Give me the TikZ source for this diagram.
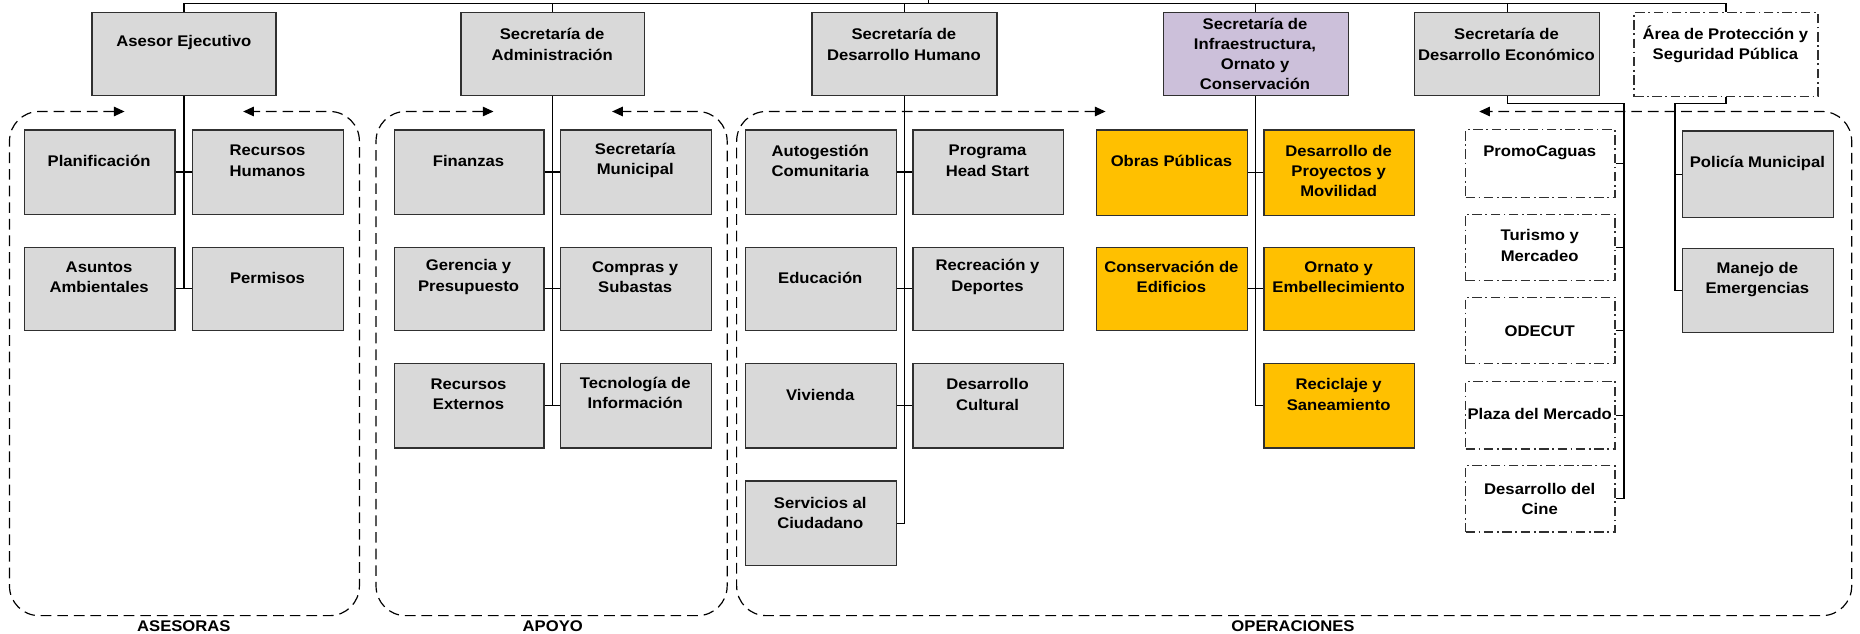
\documentclass[tikz,border=0pt]{standalone}
\usepackage{fontspec}
\setmainfont{Liberation Sans}[FakeStretch=1.08]
\usetikzlibrary{arrows.meta}

\definecolor{boxgray}{HTML}{D9D9D9}
\definecolor{infrafill}{HTML}{CCC0DA}
\definecolor{opfill}{HTML}{FFC000}
\definecolor{edgecol}{HTML}{303030}

\tikzset{
  unitbox/.style={draw=edgecol, line width=1.1pt, inner sep=0pt},
  gbox/.style={unitbox, fill=boxgray},
  obox/.style={unitbox, fill=opfill},
  pbox/.style={unitbox, fill=infrafill},
  dbox/.style={draw=edgecol, line width=1pt, fill=white, inner sep=0pt,
               dash pattern=on 8pt off 3pt on 1.5pt off 3pt},
  txt/.style={font=\fontsize{13}{17}\selectfont\bfseries, align=center, inner sep=0pt},
  link/.style={line width=1pt, draw=black},
  grp/.style={line width=1pt, draw=black, dash pattern=on 9pt off 5pt,
              rounded corners=25pt, >={Triangle[length=9pt,width=8pt]}},
  grplbl/.style={font=\fontsize{13}{15}\selectfont\bfseries, inner sep=0pt},
}

% box from its top-left (#3,#4) to bottom-right (#5,#6)
\newcommand\orgbox[6]{%
  \node[#1, anchor=north west, minimum width=#5pt-#3pt, minimum height=#6pt-#4pt]
    (#2) at (#3,#4) {};}

\begin{document}
\begin{tikzpicture}[x=1pt,y=-1pt]
\useasboundingbox (0,0) rectangle (1568,534);

% ---------- group frames ----------
\draw[grp,<->] (105,94) -- (8,94) -- (8,519) -- (303,519) -- (303,94) -- (205,94);
\draw[grp,<->] (416,94) -- (317,94) -- (317,519) -- (613,519) -- (613,94) -- (516,94);
\draw[grp,<->] (932,94) -- (621,94) -- (621,519) -- (1561,519) -- (1561,94) -- (1247,94);

\node[grplbl] (l-ase) at (155,528) {ASESORAS};
\node[grplbl] (l-apo) at (466,528) {APOYO};
\node[grplbl] (l-ope) at (1090,528) {OPERACIONES};

% ---------- heads ----------
\orgbox{gbox}{ae}{77}{10}{232}{80}
\orgbox{gbox}{sa}{388}{10}{543}{80}
\orgbox{gbox}{sdh}{684}{10}{840}{80}
\orgbox{pbox}{sio}{980}{10}{1136}{80}
\orgbox{gbox}{sde}{1192}{10}{1348}{80}
\orgbox{dbox}{aps}{1377}{10}{1532}{81}

% ---------- Asesoras ----------
\orgbox{gbox}{pl}{20}{109}{147}{180}
\orgbox{gbox}{rh}{162}{109}{289}{180}
\orgbox{gbox}{asa}{20}{208}{147}{278}
\orgbox{gbox}{per}{162}{208}{289}{278}

% ---------- Apoyo ----------
\orgbox{gbox}{fin}{332}{109}{458}{180}
\orgbox{gbox}{smu}{472}{109}{599}{180}
\orgbox{gbox}{gyp}{332}{208}{458}{278}
\orgbox{gbox}{cys}{472}{208}{599}{278}
\orgbox{gbox}{rex}{332}{306}{458}{377}
\orgbox{gbox}{tdi}{472}{306}{599}{377}

% ---------- Desarrollo Humano ----------
\orgbox{gbox}{agc}{628}{109}{755}{180}
\orgbox{gbox}{phs}{769}{109}{896}{180}
\orgbox{gbox}{edu}{628}{208}{755}{278}
\orgbox{gbox}{ryd}{769}{208}{896}{278}
\orgbox{gbox}{viv}{628}{306}{755}{377}
\orgbox{gbox}{dcu}{769}{306}{896}{377}
\orgbox{gbox}{sac}{628}{405}{755}{476}

% ---------- Infraestructura ----------
\orgbox{obox}{obp}{924}{109}{1051}{181}
\orgbox{obox}{dpm}{1065}{109}{1192}{181}
\orgbox{obox}{cde}{924}{208}{1051}{278}
\orgbox{obox}{oye}{1065}{208}{1192}{278}
\orgbox{obox}{rys}{1065}{306}{1192}{377}

% ---------- Desarrollo Economico ----------
\orgbox{dbox}{pro}{1235}{109}{1361}{166}
\orgbox{dbox}{tym}{1235}{180}{1361}{236}
\orgbox{dbox}{ode}{1235}{250}{1361}{306}
\orgbox{dbox}{pdm}{1235}{321}{1361}{378}
\orgbox{dbox}{ddc}{1235}{392}{1361}{448}

% ---------- Proteccion ----------
\orgbox{gbox}{pol}{1418}{110}{1545}{183}
\orgbox{gbox}{mde}{1418}{209}{1545}{280}

% ---------- connectors ----------
\coordinate (root) at (783,0);
\coordinate (bar) at (0,3);
\draw[link] (ae.north) -- (ae.north |- bar) -- (aps.north |- bar) -- (aps.north);
\draw[link] (root) -- (root |- bar);
\draw[link] (sa.north) -- (sa.north |- bar);
\draw[link] (sdh.north) -- (sdh.north |- bar);
\draw[link] (sio.north) -- (sio.north |- bar);
\draw[link] (sde.north) -- (sde.north |- bar);

\draw[link] (ae.south) -- (ae.south |- asa.east);
\draw[link] (pl.east) -- (rh.west);
\draw[link] (asa.east) -- (per.west);

\draw[link] (sa.south) -- (sa.south |- rex.east);
\draw[link] (fin.east) -- (smu.west);
\draw[link] (gyp.east) -- (cys.west);
\draw[link] (rex.east) -- (tdi.west);

\draw[link] (sdh.south) -- (sdh.south |- sac.east) -- (sac.east);
\draw[link] (agc.east) -- (phs.west);
\draw[link] (edu.east) -- (ryd.west);
\draw[link] (viv.east) -- (dcu.west);

\draw[link] (sio.south) -- (sio.south |- rys.west) -- (rys.west);
\draw[link] (obp.east) -- (dpm.west);
\draw[link] (cde.east) -- (oye.west);

\coordinate (ebus) at (1369,87);
\draw[link] (sde.south) -- (sde.south |- ebus) -- (ebus) -- (ebus |- ddc.east) -- (ddc.east);
\draw[link] (pro.east) -- (pro.east -| ebus);
\draw[link] (tym.east) -- (tym.east -| ebus);
\draw[link] (ode.east) -- (ode.east -| ebus);
\draw[link] (pdm.east) -- (pdm.east -| ebus);

\coordinate (abus) at (1412,87);
\draw[link] (aps.south) -- (aps.south |- abus) -- (abus) -- (abus |- mde.west) -- (mde.west);
\draw[link] (pol.west) -- (pol.west -| abus);

% ---------- texts ----------
\node[txt] (ae-t)  at (155,36)    {Asesor Ejecutivo};
\node[txt] (sa-t)  at (465.5,37.5)  {Secretaría de\\Administración};
\node[txt] (sdh-t) at (762,37.5)  {Secretaría de\\Desarrollo Humano};
\node[txt] (sio-t) at (1058,45.5) {Secretaría de\\Infraestructura,\\Ornato y\\Conservación};
\node[txt] (sde-t) at (1270,37.5) {Secretaría de\\Desarrollo Económico};
\node[txt] (aps-t) at (1454.5,37.5) {Área de Protección y\\Seguridad Pública};

\node[txt] (pl-t)  at (83.5,136)   {Planificación};
\node[txt] (rh-t)  at (225.5,135.5) {Recursos\\Humanos};
\node[txt] (asa-t) at (83.5,233.5) {Asuntos\\Ambientales};
\node[txt] (per-t) at (225.5,234)  {Permisos};

\node[txt] (fin-t) at (395,136)    {Finanzas};
\node[txt] (smu-t) at (535.5,135.5) {Secretaría\\Municipal};
\node[txt] (gyp-t) at (395,233.5)  {Gerencia y\\Presupuesto};
\node[txt] (cys-t) at (535.5,233.5) {Compras y\\Subastas};
\node[txt] (rex-t) at (395,332.5)  {Recursos\\Externos};
\node[txt] (tdi-t) at (535.5,331.5) {Tecnología de\\Información};

\node[txt] (agc-t) at (691.5,135.5) {Autogestión\\Comunitaria};
\node[txt] (phs-t) at (832.5,135.5) {Programa\\Head Start};
\node[txt] (edu-t) at (691.5,234)   {Educación};
\node[txt] (ryd-t) at (832.5,233.5) {Recreación y\\Deportes};
\node[txt] (viv-t) at (691.5,333)   {Vivienda};
\node[txt] (dcu-t) at (832.5,332.5) {Desarrollo\\Cultural};
\node[txt] (sac-t) at (691.5,432.5) {Servicios al\\Ciudadano};

\node[txt] (obp-t) at (987.5,136)   {Obras Públicas};
\node[txt] (dpm-t) at (1128.5,144)  {Desarrollo de\\Proyectos y\\Movilidad};
\node[txt] (cde-t) at (987.5,233.5) {Conservación de\\Edificios};
\node[txt] (oye-t) at (1128.5,233.5) {Ornato y\\Embellecimiento};
\node[txt] (rys-t) at (1128.5,332.5) {Reciclaje y\\Saneamiento};

\node[txt] (pro-t) at (1298,129)   {PromoCaguas};
\node[txt] (tym-t) at (1298,207)   {Turismo y\\Mercadeo};
\node[txt] (ode-t) at (1298,279)   {ODECUT};
\node[txt] (pdm-t) at (1298,349)   {Plaza del Mercado};
\node[txt] (ddc-t) at (1298,420.5) {Desarrollo del\\Cine};

\node[txt] (pol-t) at (1481.5,138)   {Policía Municipal};
\node[txt] (mde-t) at (1481.5,235.5) {Manejo de\\Emergencias};
\end{tikzpicture}
\end{document}
